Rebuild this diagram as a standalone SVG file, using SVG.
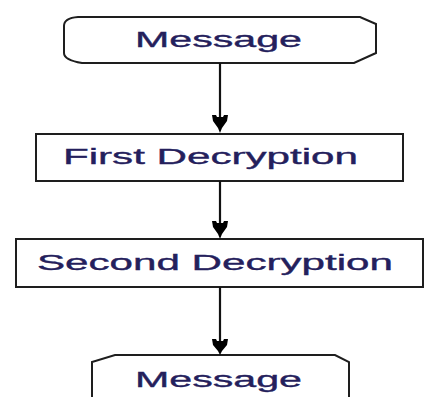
<svg xmlns="http://www.w3.org/2000/svg" width="428" height="397" viewBox="0 0 428 397">
  <defs>
    <style>
      .box { fill: #ffffff; stroke: #1e1e1e; stroke-width: 2; }
      .label { font-family: "Liberation Sans", Arial, sans-serif; font-size: 22px; fill: #24205c; stroke: #24205c; stroke-width: 0.35; }
      .wire { stroke: #111111; stroke-width: 2.2; fill: none; }
      .head { fill: #000000; }
    </style>
  </defs>
  <rect width="428" height="397" fill="#ffffff"/>

  <!-- start terminal -->
  <g id="message-start">
    <path class="box" d="M78,17 L360,17 L376,24 L376,53 L354,63 L82,63 Q64,60 64,53 L64,26 Q64,18 78,17 Z"/>
    <text class="label" x="135" y="47" textLength="167" lengthAdjust="spacingAndGlyphs">Message</text>
  </g>

  <!-- first process step -->
  <g id="first-decryption">
    <rect class="box" x="36" y="134" width="367" height="47"/>
    <text class="label" x="63" y="164" textLength="295" lengthAdjust="spacingAndGlyphs">First Decryption</text>
  </g>

  <!-- second process step -->
  <g id="second-decryption">
    <rect class="box" x="16" y="239" width="407" height="48"/>
    <text class="label" x="37" y="270" textLength="356" lengthAdjust="spacingAndGlyphs">Second Decryption</text>
  </g>

  <!-- end terminal (runs off the bottom edge) -->
  <g id="message-end">
    <path class="box" d="M92,400 L92,362 L115,355 L335,355 L349,362 L349,400"/>
    <text class="label" x="135" y="387" textLength="167" lengthAdjust="spacingAndGlyphs">Message</text>
  </g>

  <!-- connectors -->
  <g id="connectors">
    <line class="wire" x1="220" y1="63" x2="220" y2="118"/>
    <path class="head" d="M212,115 L216,115 L217,117 L223,117 L224,115 L228,115 L227,121 L222,128 L220,133 L218,128 L213,121 Z"/>

    <line class="wire" x1="220" y1="181" x2="220" y2="224"/>
    <path class="head" d="M212,221 L216,221 L217,223 L223,223 L224,221 L228,221 L227,227 L222,234 L220,239 L218,234 L213,227 Z"/>

    <line class="wire" x1="220" y1="287" x2="220" y2="342"/>
    <path class="head" d="M212,339 L216,339 L217,341 L223,341 L224,339 L228,339 L227,345 L222,351 L220,355 L218,351 L213,345 Z"/>
  </g>
</svg>
